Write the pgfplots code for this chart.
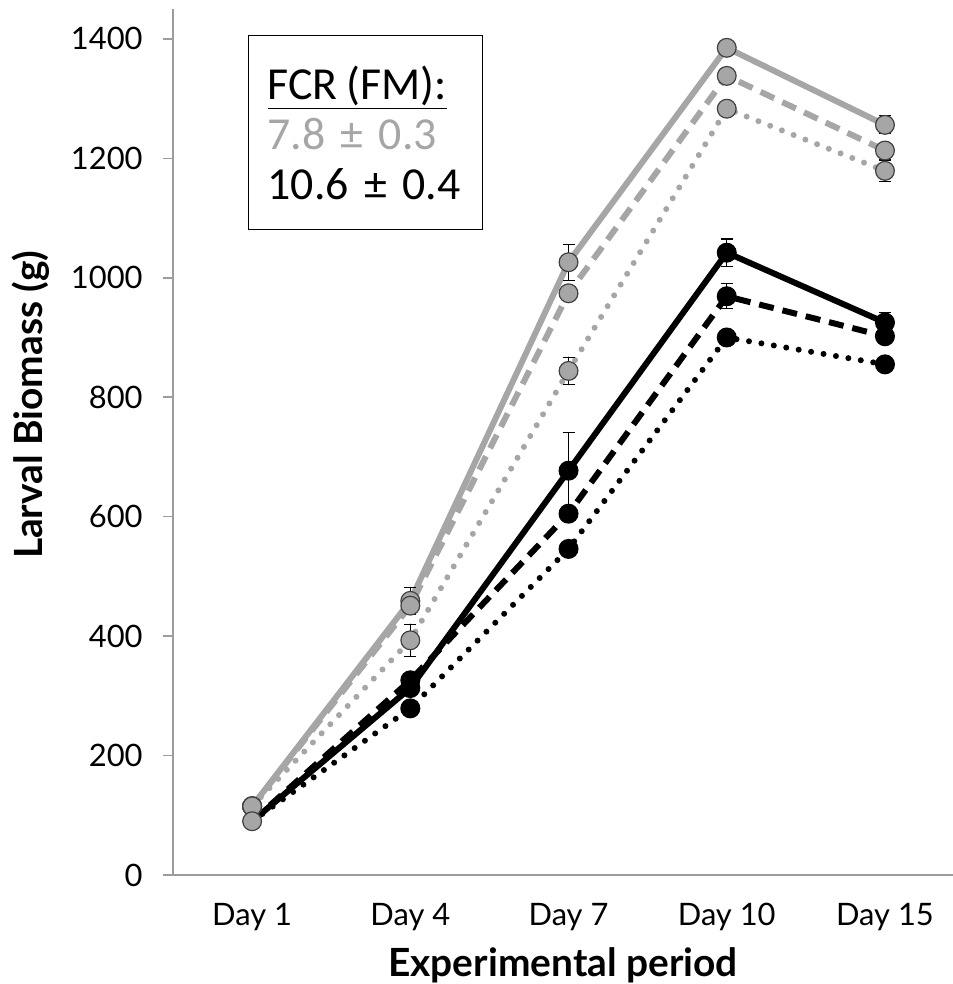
\documentclass[border=0pt]{standalone}
\usepackage{fontspec}
\setmainfont{Lato}
\newfontfamily\carlito{Carlito}
\usepackage{pgfplots}
\pgfplotsset{compat=1.18}
\definecolor{lgrey}{HTML}{A6A6A6}
\definecolor{axgrey}{HTML}{9C9C9C}

\pgfplotsset{
  gser/.style={lgrey, line width=3bp, mark=*, mark size=4.7bp,
    mark options={solid, fill=lgrey, draw=black!75, line width=0.6bp}},
  bser/.style={black, line width=3bp, mark=*, mark size=4.7bp,
    mark indices={2,3,4,5},
    mark options={solid, fill=black, draw=black, line width=0.6bp}},
  ebars/.style={error bars/.cd, y dir=both, y explicit,
    error bar style={solid, black, line width=0.6bp},
    error mark options={rotate=90, black, mark size=3bp, line width=0.6bp, solid}},
}

\begin{document}
\begin{tikzpicture}
\begin{axis}[
  name=ax, scale only axis, width=390bp, height=433bp,
  xmin=-0.5, xmax=4.43, ymin=0, ymax=1450,
  axis lines*=left, axis line style={draw=axgrey, line width=0.75bp, -},
  xtick={0,1,2,3,4}, xticklabels={Day 1,Day 4,Day 7,Day 10,Day 15},
  ytick={0,200,...,1400},
  tick align=outside, major tick length=5bp,
  xtick style={draw=none}, ytick style={draw=axgrey, line width=0.75bp},
  /pgf/number format/assume math mode=true,
  /pgf/number format/1000 sep={},
  tick label style={font=\fontsize{15.5}{17}\selectfont},
  xticklabel style={anchor=center, yshift=-16bp},
  yticklabel style={anchor=east, inner sep=0pt, xshift=-10bp},
  xlabel={Experimental period}, ylabel={Larval Biomass (g)},
  label style={font=\bfseries\fontsize{19.5}{22}\selectfont},
  xlabel style={at={(axis description cs:0.5,-0.104)}, anchor=center},
  ylabel style={at={(axis description cs:-0.183,0.543)}, anchor=center},
  clip=false,
]
% grey series
\addplot[gser, ebars] coordinates {(0,115) (1,459) +- (0,23) (2,1026) +- (0,30) (3,1385) +- (0,0) (4,1256) +- (0,15)};
\addplot[gser, dash pattern=on 7.5bp off 4.5bp] coordinates {(0,115) (1,451) (2,974) (3,1338) (4,1213)};
\addplot[gser, line cap=round, dash pattern=on 0bp off 6.3bp, ebars] coordinates {(0,115) (1,393) +- (0,27) (2,844) +- (0,23) (3,1283) +- (0,0) (4,1179) +- (0,18)};
% black series
\addplot[bser, ebars] coordinates {(0,90) (1,313) (2,677) +- (0,64) (3,1042) +- (0,23) (4,925) +- (0,17)};
\addplot[bser, dash pattern=on 7.5bp off 4.5bp, ebars] coordinates {(0,90) (1,326) (2,605) (3,969) +- (0,21) (4,902)};
\addplot[bser, line cap=round, dash pattern=on 0bp off 6.3bp] coordinates {(0,90) (1,279) (2,546) (3,900) (4,855)};
% day 1 markers on top
\addplot[only marks, mark=*, mark size=4.7bp, mark options={fill=lgrey, draw=black!75, line width=0.6bp}] coordinates {(0,115) (0,90)};

\node[draw, line width=0.75bp, anchor=north west, align=left,
  minimum width=116.5bp, minimum height=97bp, text width=98bp,
  inner xsep=9.5bp, inner ysep=6bp,
  font=\carlito\fontsize{23}{25}\selectfont]
  at (rel axis cs:0.096,0.970)
  {\underline{FCR\hspace{0.2em}(FM):}\\\textcolor{lgrey}{7.8 ± 0.3}\\10.6 ± 0.4};
\end{axis}
\pgfresetboundingbox
\path ([xshift=-86.5bp,yshift=-54.5bp]ax.south west) rectangle ([yshift=4.5bp]ax.north east);
\end{tikzpicture}
\end{document}
